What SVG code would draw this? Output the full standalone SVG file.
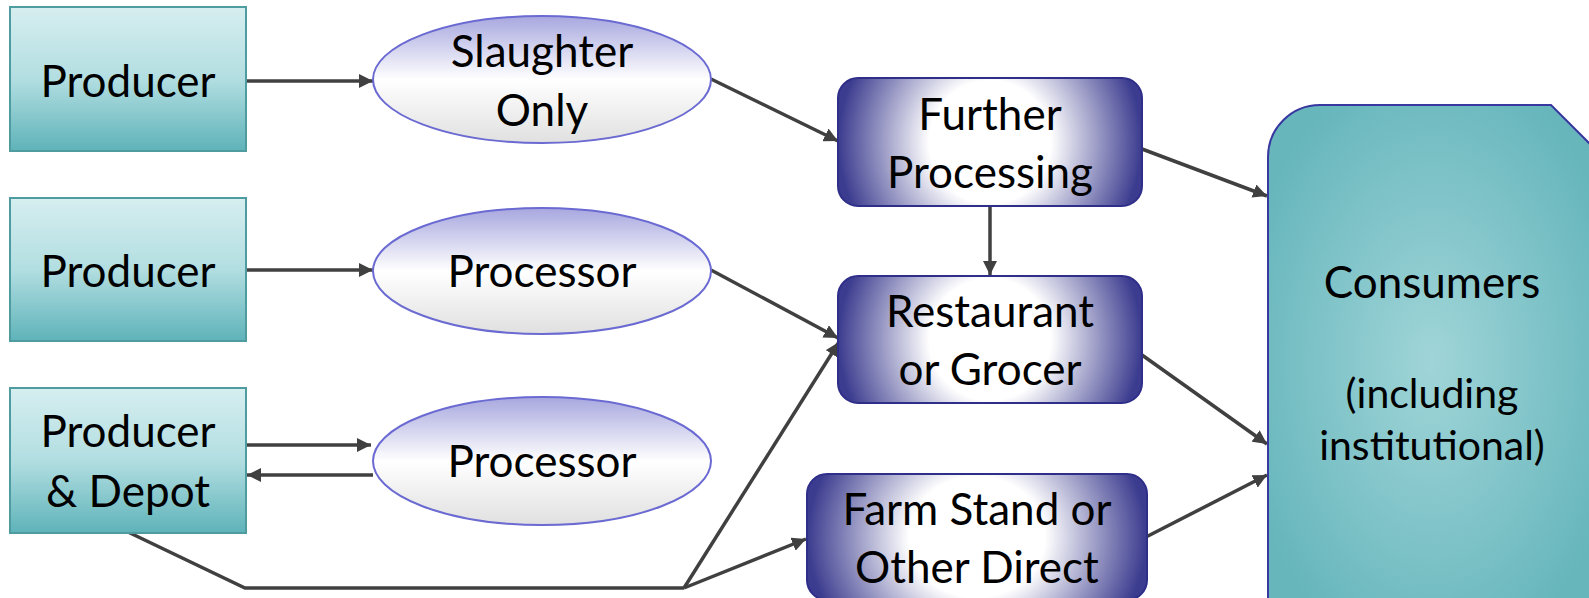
<svg xmlns="http://www.w3.org/2000/svg" width="1589" height="598" viewBox="0 0 1589 598">
  <defs>
    <linearGradient id="gProd" x1="0" y1="0" x2="0" y2="1">
      <stop offset="0" stop-color="#d6eef0"/>
      <stop offset="0.5" stop-color="#b2dee1"/>
      <stop offset="1" stop-color="#5eb3b9"/>
    </linearGradient>
    <linearGradient id="gEll" x1="0" y1="0" x2="0" y2="1">
      <stop offset="0" stop-color="#a7a7df"/>
      <stop offset="0.5" stop-color="#ffffff"/>
      <stop offset="1" stop-color="#e0e0e0"/>
    </linearGradient>
    <radialGradient id="gBox" cx="0.5" cy="0.5" r="0.5" gradientTransform="translate(0.5,0.5) scale(1,2.4) translate(-0.5,-0.5)">
      <stop offset="0" stop-color="#ffffff"/>
      <stop offset="0.4" stop-color="#ffffff"/>
      <stop offset="1" stop-color="#3b3b8f"/>
    </radialGradient>
    <radialGradient id="gCons" cx="0.5" cy="0.5" r="0.6">
      <stop offset="0" stop-color="#a0d5d8"/>
      <stop offset="1" stop-color="#66b6bc"/>
    </radialGradient>
    <marker id="arr" viewBox="0 0 10 10" refX="10" refY="5" markerWidth="4" markerHeight="4" orient="auto" markerUnits="strokeWidth">
      <path d="M0,0 L10,5 L0,10 z" fill="#404040"/>
    </marker>
    <style>
      .prod { fill: url(#gProd); stroke: #4f9ca0; stroke-width: 2; }
      .ell { fill: url(#gEll); stroke: #6a6ad2; stroke-width: 2; }
      .box { fill: url(#gBox); stroke: #2f2f8a; stroke-width: 2; }
      .cons { fill: url(#gCons); stroke: #3838a0; stroke-width: 2; }
      .t { font-family: Lato, "Liberation Sans", sans-serif; font-size: 44px; fill: #000; text-anchor: middle; }
      .s { font-size: 41px; }
      .c { fill: none; stroke: #404040; stroke-width: 3.5; }
      .a { marker-end: url(#arr); }
    </style>
  </defs>

  <g id="connectors">
    <line class="c a" x1="246" y1="81" x2="373" y2="81"/>
    <line class="c a" x1="246" y1="270" x2="373" y2="270"/>
    <line class="c a" x1="246" y1="445" x2="371" y2="445"/>
    <line class="c a" x1="373" y1="475" x2="247" y2="475"/>
    <line class="c a" x1="711" y1="79" x2="838" y2="141"/>
    <line class="c a" x1="1142" y1="149" x2="1267" y2="196"/>
    <line class="c a" x1="990" y1="206" x2="990" y2="275"/>
    <line class="c a" x1="711" y1="270" x2="838" y2="338"/>
    <polyline class="c" points="128,532 245,588 684,588"/>
    <line class="c a" x1="684" y1="588" x2="839" y2="342"/>
    <line class="c a" x1="684" y1="588" x2="806" y2="539"/>
    <line class="c a" x1="1142" y1="355" x2="1267" y2="444"/>
    <line class="c a" x1="1146" y1="537" x2="1267" y2="475"/>
  </g>

  <g id="producer1">
    <rect class="prod" x="10" y="7" width="236" height="144"/>
    <text class="t" x="128" y="97">Producer</text>
  </g>
  <g id="producer2">
    <rect class="prod" x="10" y="198" width="236" height="143"/>
    <text class="t" x="128" y="287">Producer</text>
  </g>
  <g id="producer-depot">
    <rect class="prod" x="10" y="388" width="236" height="145"/>
    <text class="t" x="128" y="447">Producer</text>
    <text class="t" x="128" y="507">&amp; Depot</text>
  </g>

  <g id="slaughter-only">
    <ellipse class="ell" cx="542" cy="79.5" rx="169" ry="63.5"/>
    <text class="t" x="542" y="67">Slaughter</text>
    <text class="t" x="542" y="126">Only</text>
  </g>
  <g id="processor2">
    <ellipse class="ell" cx="542" cy="271" rx="169" ry="63"/>
    <text class="t" x="542" y="287">Processor</text>
  </g>
  <g id="processor3">
    <ellipse class="ell" cx="542" cy="461" rx="169" ry="64"/>
    <text class="t" x="542" y="477">Processor</text>
  </g>

  <g id="further-processing">
    <rect class="box" x="838" y="78" width="304" height="128" rx="20"/>
    <text class="t" x="990" y="130">Further</text>
    <text class="t" x="990" y="188">Processing</text>
  </g>
  <g id="restaurant-grocer">
    <rect class="box" x="838" y="276" width="304" height="127" rx="20"/>
    <text class="t" x="990" y="327">Restaurant</text>
    <text class="t" x="990" y="385">or Grocer</text>
  </g>
  <g id="farm-stand">
    <rect class="box" x="807" y="474" width="340" height="126" rx="20"/>
    <text class="t" x="977" y="525">Farm Stand or</text>
    <text class="t" x="977" y="583">Other Direct</text>
  </g>

  <g id="consumers">
    <path class="cons" d="M1268,620 L1268,157 A52,52 0 0 1 1320,105 L1551,105 L1596,150 L1596,620 Z"/>
    <text class="t" x="1432" y="298">Consumers</text>
    <text class="t s" x="1432" y="408">(including</text>
    <text class="t s" x="1432" y="460">institutional)</text>
  </g>
</svg>
